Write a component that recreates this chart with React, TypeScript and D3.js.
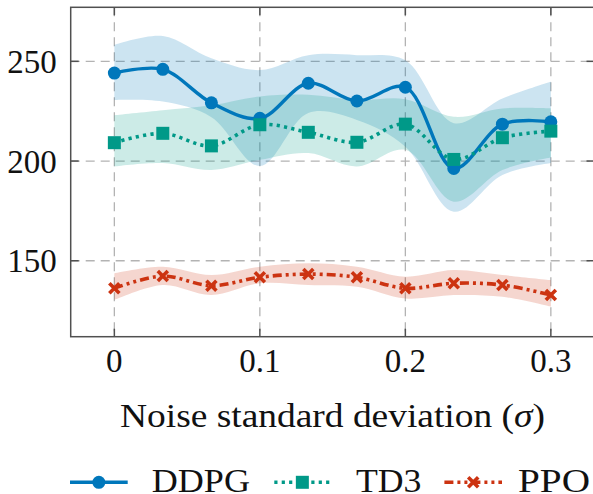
import React from "react";
import * as d3 from "d3";

const sigmas = [0, 0.0333, 0.0667, 0.1, 0.1333, 0.1667, 0.2, 0.2333, 0.2667, 0.3];

const ddpgMean = [244.1, 246.0, 229.2, 221.4, 239.0, 230.1, 237.0, 196.3, 218.5, 219.7];
const ddpgUpper = [258.2, 262.7, 251.5, 245.6, 253.1, 253.1, 250.5, 219.0, 231.4, 239.8];
const ddpgLower = [230.6, 229.8, 222.0, 197.5, 224.1, 220.6, 207.2, 174.6, 193.0, 199.0];

const td3Mean = [209.2, 213.9, 207.6, 218.2, 214.4, 209.4, 218.5, 200.8, 211.7, 215.0];
const td3Upper = [223.0, 225.5, 228.0, 232.4, 233.2, 230.6, 231.0, 222.2, 226.4, 226.4];
const td3Lower = [197.3, 199.0, 195.5, 200.6, 204.0, 197.3, 205.6, 179.6, 195.5, 201.8];

const ppoMean = [136.2, 142.3, 137.5, 141.7, 143.3, 141.7, 136.2, 138.7, 137.8, 132.8];
const ppoUpper = [143.7, 147.0, 142.8, 147.0, 148.7, 147.0, 142.0, 145.3, 142.8, 140.3];
const ppoLower = [130.3, 137.8, 132.8, 138.7, 137.8, 137.0, 131.1, 132.8, 131.9, 126.9];

const xTicks = [0, 0.1, 0.2, 0.3];
const xTickLabels = ["0", "0.1", "0.2", "0.3"];
const yTicks = [150, 200, 250];
const seriesNames = ["DDPG", "TD3", "PPO"];

const W = 593;
const H = 494;
const FONT = "'Liberation Serif', 'Times New Roman', serif";

const x = d3.scaleLinear().domain([-0.03, 0.33]).range([70.7, 594.5]);
const y = d3.scaleLinear().domain([111.9, 277.1]).range([336.7, 7.3]);

const COLORS = ["#0077BB", "#009988", "#CC3311"];
const DASH = [null, "3.2,4.2", "9,4,3,4,3,4"];

const series = [
  { name: seriesNames[0], mean: ddpgMean, up: ddpgUpper, lo: ddpgLower },
  { name: seriesNames[1], mean: td3Mean, up: td3Upper, lo: td3Lower },
  { name: seriesNames[2], mean: ppoMean, up: ppoUpper, lo: ppoLower },
];

const curve = d3.curveCatmullRom.alpha(0.5);

function Marker({ kind, cx, cy, color }: { kind: number; cx: number; cy: number; color: string }) {
  if (kind === 0) return <circle cx={cx} cy={cy} r={6.5} fill={color} />;
  if (kind === 1) return <rect x={cx - 6.5} y={cy - 6.5} width={13} height={13} fill={color} />;
  const s = 5;
  return (
    <g stroke={color} strokeWidth={3.6} strokeLinecap="butt">
      <line x1={cx - s} y1={cy - s} x2={cx + s} y2={cy + s} />
      <line x1={cx - s} y1={cy + s} x2={cx + s} y2={cy - s} />
    </g>
  );
}

export default function App() {
  const area = (up: number[], lo: number[]) =>
    d3
      .area<number>()
      .x((_, i) => x(sigmas[i]))
      .y0((_, i) => y(lo[i]))
      .y1((_, i) => y(up[i]))
      .curve(curve)(sigmas.map((_, i) => i)) || "";
  const line = (m: number[]) =>
    d3
      .line<number>()
      .x((_, i) => x(sigmas[i]))
      .y((_, i) => y(m[i]))
      .curve(curve)(sigmas.map((_, i) => i)) || "";

  const left = x.range()[0];
  const right = x.range()[1];
  const top = y.range()[1];
  const bottom = y.range()[0];
  const tickLen = 8;
  const axisColor = "#505050";

  const legendItems = [
    { x0: 70, x1: 127.7, tx: 151.7, tw: 98.3 },
    { x0: 274.3, x1: 330.4, tx: 356, tw: 65.5 },
    { x0: 444.4, x1: 502, tx: 518, tw: 72 },
  ];

  return (
    <svg
      width={W}
      height={H}
      style={{ position: "absolute", left: 0, top: 0, display: "block", background: "#fff" }}
      fontFamily={FONT}
    >
      <rect width={W} height={H} fill="#fff" />
      {/* grid */}
      <g stroke="#b3b3b3" strokeWidth={1.3} strokeDasharray="9,6">
        {xTicks.map((t) => (
          <line key={"gx" + t} x1={x(t)} x2={x(t)} y1={top} y2={bottom} />
        ))}
        {yTicks.map((t) => (
          <line key={"gy" + t} x1={left} x2={right} y1={y(t)} y2={y(t)} />
        ))}
      </g>
      {/* bands */}
      {series.map((s, i) => (
        <path key={"band" + i} d={area(s.up, s.lo)} fill={COLORS[i]} fillOpacity={0.2} stroke="none" />
      ))}
      {/* lines */}
      {series.map((s, i) => (
        <g key={"line" + i}>
          <path
            d={line(s.mean)}
            fill="none"
            stroke={COLORS[i]}
            strokeWidth={i === 0 ? 3.4 : 3.6}
            strokeDasharray={DASH[i] || undefined}
          />
          {s.mean.map((v, j) => (
            <Marker key={j} kind={i} cx={x(sigmas[j])} cy={y(v)} color={COLORS[i]} />
          ))}
        </g>
      ))}
      {/* frame and ticks */}
      <g stroke={axisColor} strokeWidth={1.5} fill="none">
        <rect x={left} y={top} width={right - left} height={bottom - top} />
        {xTicks.map((t) => (
          <g key={"xt" + t}>
            <line x1={x(t)} x2={x(t)} y1={bottom} y2={bottom - tickLen} />
            <line x1={x(t)} x2={x(t)} y1={top} y2={top + tickLen} />
          </g>
        ))}
        {yTicks.map((t) => (
          <g key={"yt" + t}>
            <line x1={left} x2={left + tickLen} y1={y(t)} y2={y(t)} />
            <line x1={right} x2={right - tickLen} y1={y(t)} y2={y(t)} />
          </g>
        ))}
      </g>
      {/* tick labels */}
      <g fontSize={33} fill="#111">
        {xTicks.map((t, i) => (
          <text key={"xl" + t} x={x(t)} y={372.3} textAnchor="middle">
            {xTickLabels[i]}
          </text>
        ))}
        {yTicks.map((t) => (
          <text key={"yl" + t} x={56.7} y={y(t) + 11.6} textAnchor="end">
            {t}
          </text>
        ))}
      </g>
      {/* axis label */}
      <text
        x={120}
        y={426.5}
        fontSize={33}
        fill="#111"
        textLength={425}
        lengthAdjust="spacingAndGlyphs"
      >
        Noise standard deviation (<tspan fontStyle="italic">σ</tspan>)
      </text>
      {/* legend */}
      {series.map((s, i) => {
        const L = legendItems[i];
        const ly = 482.3;
        return (
          <g key={"leg" + i}>
            <line
              x1={L.x0}
              x2={L.x1}
              y1={ly}
              y2={ly}
              stroke={COLORS[i]}
              strokeWidth={3.6}
              strokeDasharray={DASH[i] || undefined}
            />
            <Marker kind={i} cx={(L.x0 + L.x1) / 2} cy={ly} color={COLORS[i]} />
            <text
              x={L.tx}
              y={491.5}
              fontSize={33}
              fill="#111"
              textLength={L.tw}
              lengthAdjust="spacingAndGlyphs"
            >
              {s.name}
            </text>
          </g>
        );
      })}
    </svg>
  );
}
